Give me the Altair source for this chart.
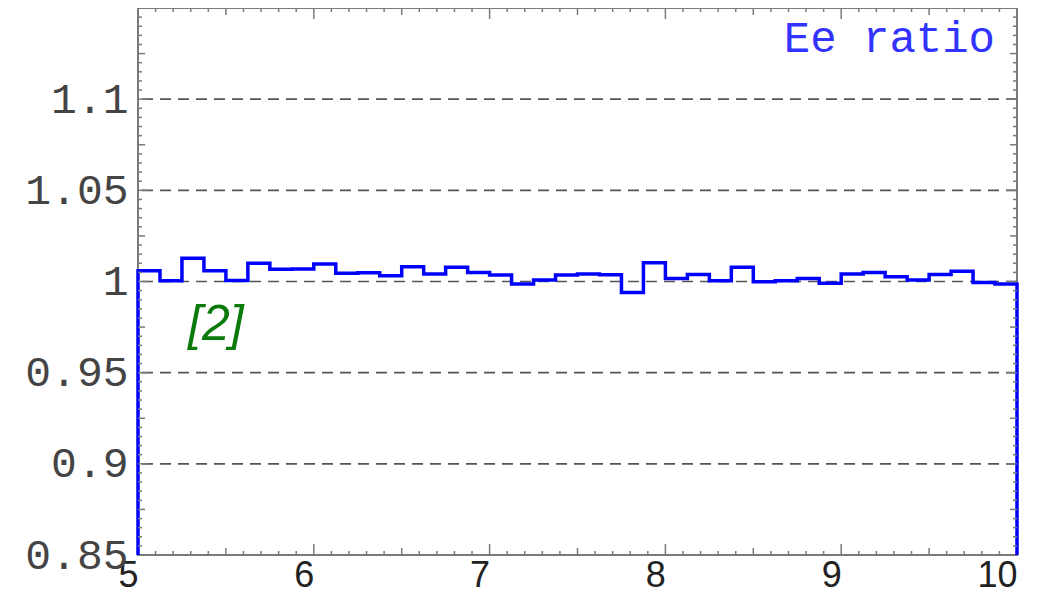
import altair as alt
import pandas as pd

# ---- data ----
bin_start = 5.0
bin_width = 0.125
ratio = [1.0059, 1.0004, 1.0127, 1.0059, 1.0005, 1.0100, 1.0067, 1.0068,
         1.0096, 1.0045, 1.0048, 1.0032, 1.0081, 1.0041, 1.0078, 1.0050,
         1.0036, 0.9986, 1.0008, 1.0036, 1.0041, 1.0037, 0.9939, 1.0103,
         1.0017, 1.0039, 1.0004, 1.0078, 0.9999, 1.0004, 1.0017, 0.9990,
         1.0041, 1.0050, 1.0026, 1.0008, 1.0039, 1.0056, 0.9994, 0.9986]
y_floor = 0.85
x_labels = [5, 6, 7, 8, 9, 10]
y_labels = [0.85, 0.9, 0.95, 1.0, 1.05, 1.1]
grid_vals = [0.9, 0.95, 1.0, 1.05, 1.1]
series_label = "Ee ratio"
ref_label = "[2]"

W, H = 879, 547
FRAME = "#7a7a7a"
xs = alt.Scale(domain=[5, 10], nice=False, zero=False)
ys = alt.Scale(domain=[0.85, 1.15], nice=False, zero=False)

x_axis = alt.Axis(values=x_labels, format="d", ticks=False, tickSize=0,
                  domain=False, grid=False, labelFlush=False,
                  labelOverlap=False, labelAlign="right",
                  labelBaseline="top", labelPadding=3,
                  labelFont="Liberation Sans", labelFontSize=36,
                  labelColor="#222222", title=None)
y_axis = alt.Axis(values=y_labels, format="~g", ticks=False, tickSize=0,
                  domain=False, grid=False, labelFlush=False,
                  labelOverlap=False, labelPadding=10,
                  labelBaseline="middle",
                  labelFont="Liberation Mono", labelFontSize=43,
                  labelColor="#444444", title=None)


def X(f="x"):
    return alt.X(f + ":Q", scale=xs, axis=x_axis, title=None)


def Y(f="y"):
    return alt.Y(f + ":Q", scale=ys, axis=y_axis, title=None)


# step outline of the histogram
pts = [(bin_start, y_floor)]
for i, v in enumerate(ratio):
    lo = bin_start + i * bin_width
    pts.append((lo, v))
    pts.append((lo + bin_width, v))
pts.append((bin_start + len(ratio) * bin_width, y_floor))
hist = pd.DataFrame({"x": [p[0] for p in pts], "y": [p[1] for p in pts],
                     "o": list(range(len(pts)))})

# tick positions
x_minor = [round(5 + 0.1 * i, 3) for i in range(1, 50) if i % 5 != 0]
x_mid = [round(5.5 + i, 3) for i in range(5)]
x_major = [6, 7, 8, 9]
y_minor = [round(0.85 + 0.005 * i, 4) for i in range(1, 60) if i % 5 != 0]
y_mid = [round(0.875 + 0.05 * i, 4) for i in range(6)]
y_major = [0.9, 0.95, 1.0, 1.05, 1.1]

grid = alt.Chart(pd.DataFrame({"y": grid_vals})).mark_rule(
    color="#555555", strokeWidth=1.6, strokeDash=[11, 7]
).encode(y=Y())

line = alt.Chart(hist).mark_line(color="#0000ff", strokeWidth=3.5).encode(
    x=X(), y=Y(), order="o:Q")


def xticks(vals, length):
    df = pd.DataFrame({"x": vals})
    base = alt.Chart(df).mark_rule(color=FRAME, strokeWidth=1.5)
    bot = base.encode(x=X(), y=alt.value(H), y2=alt.value(H - length))
    top = base.encode(x=X(), y=alt.value(0), y2=alt.value(length))
    return [bot, top]


def yticks(vals, length):
    df = pd.DataFrame({"y": vals})
    base = alt.Chart(df).mark_rule(color=FRAME, strokeWidth=1.5)
    left = base.encode(y=Y(), x=alt.value(0), x2=alt.value(length))
    right = base.encode(y=Y(), x=alt.value(W), x2=alt.value(W - length))
    return [left, right]


ticks = (xticks(x_minor, 4) + xticks(x_mid, 7) + xticks(x_major, 11)
         + yticks(y_minor, 4) + yticks(y_mid, 7) + yticks(y_major, 11))

label1 = alt.Chart(pd.DataFrame({"t": [series_label]})).mark_text(
    align="right", baseline="alphabetic", font="Liberation Mono",
    fontSize=44, color="#3333ff"
).encode(text="t:N", x=alt.value(W - 22), y=alt.value(44))

label2 = alt.Chart(pd.DataFrame({"t": [ref_label]})).mark_text(
    align="left", baseline="alphabetic", font="Liberation Sans",
    fontSize=50, fontStyle="italic", color="#0b7a0b"
).encode(text="t:N", x=alt.value(50), y=alt.value(332))

chart = alt.layer(grid, line, *ticks, label1, label2).properties(
    width=W, height=H,
    autosize=alt.AutoSizeParams(type="none"),
    padding={"left": 130, "top": 0, "right": 8, "bottom": 40},
).configure_view(stroke=FRAME, strokeWidth=2)

chart.save("out.html", embed_options={"renderer": "svg", "actions": False})
